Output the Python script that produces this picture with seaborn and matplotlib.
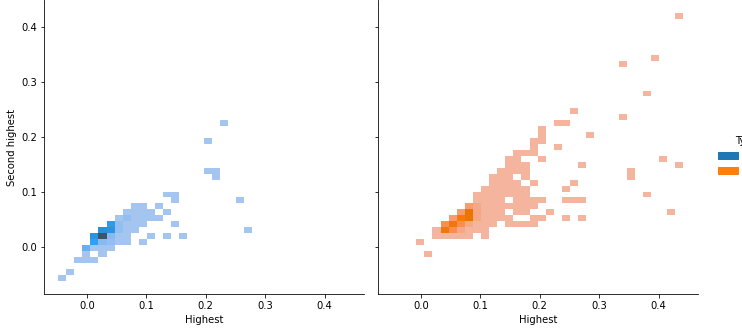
import matplotlib
matplotlib.use("Agg")
import matplotlib.pyplot as plt
import pandas as pd
import seaborn as sns

# ---- Base group: binned (Highest, Second highest) observations and their counts
base_highest = [
    -0.042,
    -0.028,
    -0.015, -0.001, 0.013,
    -0.001, 0.026,
    -0.001, 0.013, 0.026, 0.040,
    0.013, 0.026, 0.040, 0.053, 0.067, 0.094,
    0.013, 0.026, 0.040, 0.053, 0.067, 0.108, 0.135, 0.162,
    0.026, 0.040, 0.053, 0.067, 0.081, 0.271,
    0.040, 0.053, 0.067, 0.081, 0.094, 0.149,
    0.053, 0.067, 0.081, 0.094, 0.108, 0.121,
    0.067, 0.081, 0.094, 0.108, 0.135,
    0.081, 0.094, 0.121,
    0.149, 0.258,
    0.135, 0.149,
    0.217,
    0.203, 0.217,
    0.203,
    0.230,
]
base_second = [
    -0.055,
    -0.045,
    -0.023, -0.023, -0.023,
    -0.012, -0.012,
    -0.001, -0.001, -0.001, -0.001,
    0.010, 0.010, 0.010, 0.010, 0.010, 0.010,
    0.020, 0.020, 0.020, 0.020, 0.020, 0.020, 0.020, 0.020,
    0.031, 0.031, 0.031, 0.031, 0.031, 0.031,
    0.042, 0.042, 0.042, 0.042, 0.042, 0.042,
    0.053, 0.053, 0.053, 0.053, 0.053, 0.053,
    0.063, 0.063, 0.063, 0.063, 0.063,
    0.074, 0.074, 0.074,
    0.085, 0.085,
    0.096, 0.096,
    0.128,
    0.139, 0.139,
    0.193,
    0.226,
]
base_count = [
    1,
    1,
    1, 1, 1,
    1, 1,
    7, 1, 1, 1,
    11, 4, 3, 1, 1, 1,
    14, 30, 4, 1, 1, 1, 1, 1,
    15, 14, 3, 1, 1, 1,
    12, 3, 1, 1, 1, 1,
    1, 3, 1, 1, 1, 1,
    1, 1, 1, 1, 1,
    1, 1, 1,
    1, 1,
    1, 1,
    1,
    1, 1,
    1,
    1,
]

# ---- Tuned group
tuned_highest = [
    0.013,
    -0.001,
    0.026, 0.040, 0.053, 0.067, 0.081, 0.108,
    0.026, 0.040, 0.053, 0.067, 0.081, 0.094, 0.108,
    0.040, 0.053, 0.067, 0.081, 0.094, 0.108, 0.121, 0.149, 0.162, 0.176, 0.190,
    0.053, 0.067, 0.081, 0.094, 0.108, 0.121, 0.135, 0.149, 0.190, 0.203, 0.244, 0.271,
    0.067, 0.081, 0.094, 0.108, 0.121, 0.135, 0.162, 0.176, 0.217, 0.421,
    0.081, 0.094, 0.108, 0.121, 0.135, 0.149, 0.162, 0.176, 0.190,
    0.094, 0.108, 0.121, 0.135, 0.162, 0.176, 0.190, 0.203, 0.244, 0.258, 0.271,
    0.094, 0.108, 0.121, 0.135, 0.149, 0.162, 0.176, 0.380,
    0.108, 0.121, 0.135, 0.149, 0.162, 0.176, 0.244,
    0.121, 0.135, 0.149, 0.162, 0.190, 0.258,
    0.121, 0.135, 0.149, 0.176, 0.353,
    0.135, 0.149, 0.162, 0.176, 0.353,
    0.149, 0.162, 0.176, 0.271, 0.435,
    0.149, 0.162, 0.203, 0.407,
    0.162, 0.176, 0.190,
    0.190, 0.230,
    0.190, 0.203,
    0.203, 0.285,
    0.203,
    0.230, 0.244,
    0.339,
    0.258,
    0.380,
    0.339,
    0.394,
    0.435,
]
tuned_second = [
    -0.012,
    0.010,
    0.020, 0.020, 0.020, 0.020, 0.020, 0.020,
    0.031, 0.031, 0.031, 0.031, 0.031, 0.031, 0.031,
    0.042, 0.042, 0.042, 0.042, 0.042, 0.042, 0.042, 0.042, 0.042, 0.042, 0.042,
    0.053, 0.053, 0.053, 0.053, 0.053, 0.053, 0.053, 0.053, 0.053, 0.053, 0.053, 0.053,
    0.063, 0.063, 0.063, 0.063, 0.063, 0.063, 0.063, 0.063, 0.063, 0.063,
    0.074, 0.074, 0.074, 0.074, 0.074, 0.074, 0.074, 0.074, 0.074,
    0.085, 0.085, 0.085, 0.085, 0.085, 0.085, 0.085, 0.085, 0.085, 0.085, 0.085,
    0.096, 0.096, 0.096, 0.096, 0.096, 0.096, 0.096, 0.096,
    0.107, 0.107, 0.107, 0.107, 0.107, 0.107, 0.107,
    0.117, 0.117, 0.117, 0.117, 0.117, 0.117,
    0.128, 0.128, 0.128, 0.128, 0.128,
    0.139, 0.139, 0.139, 0.139, 0.139,
    0.150, 0.150, 0.150, 0.150, 0.150,
    0.161, 0.161, 0.161, 0.161,
    0.172, 0.172, 0.172,
    0.182, 0.182,
    0.193, 0.193,
    0.204, 0.204,
    0.215,
    0.226, 0.226,
    0.236,
    0.247,
    0.280,
    0.334,
    0.344,
    0.420,
]
tuned_count = [
    1,
    1,
    1, 1, 1, 1, 1, 1,
    1, 11, 7, 3, 1, 1, 1,
    7, 11, 7, 3, 1, 1, 1, 1, 1, 1, 1,
    5, 10, 12, 3, 1, 1, 1, 1, 1, 1, 1, 1,
    5, 12, 3, 1, 1, 1, 1, 1, 1, 1,
    5, 3, 1, 1, 1, 1, 1, 1, 1,
    1, 1, 1, 1, 1, 1, 1, 1, 1, 1, 1,
    1, 1, 1, 1, 1, 1, 1, 1,
    1, 1, 1, 1, 1, 1, 1,
    1, 1, 1, 1, 1, 1,
    1, 1, 1, 1, 1,
    1, 1, 1, 1, 1,
    1, 1, 1, 1, 1,
    1, 1, 1, 1,
    1, 1, 1,
    1, 1,
    1, 1,
    1, 1,
    1,
    1, 1,
    1,
    1,
    1,
    1,
    1,
    1,
]

type_levels = ["Base", "Tuned"]
axis_ticks = [0.0, 0.1, 0.2, 0.3, 0.4]

df = pd.DataFrame({
    "Highest": base_highest + tuned_highest,
    "Second highest": base_second + tuned_second,
    "n": base_count + tuned_count,
    "Type": [type_levels[0]] * len(base_highest) + [type_levels[1]] * len(tuned_highest),
})

g = sns.displot(
    df, x="Highest", y="Second highest", col="Type", hue="Type",
    weights="n", kind="hist",
    bins=(36, 45), binrange=((-0.0488, 0.4415), (-0.0607, 0.4255)),
    height=5, aspect=1,
)
g.set_titles("")

fig = g.figure
W, H = 742, 332
fig.set_size_inches(W / 72, H / 72)
ax_l, ax_r = g.axes.flat
ax_l.set_position([44 / W, 38 / H, 320 / W, 294 / H])
ax_r.set_position([378 / W, 38 / H, 320 / W, 294 / H])
for ax in (ax_l, ax_r):
    ax.set_xlim(-0.0724, 0.4663)
    ax.set_ylim(-0.0849, 0.4496)
    ax.set_xticks(axis_ticks)
    ax.set_yticks(axis_ticks)

sns.move_legend(g, "center left", bbox_to_anchor=(0.955, 0.53), frameon=False)

fig.savefig("out.png", dpi=72)
